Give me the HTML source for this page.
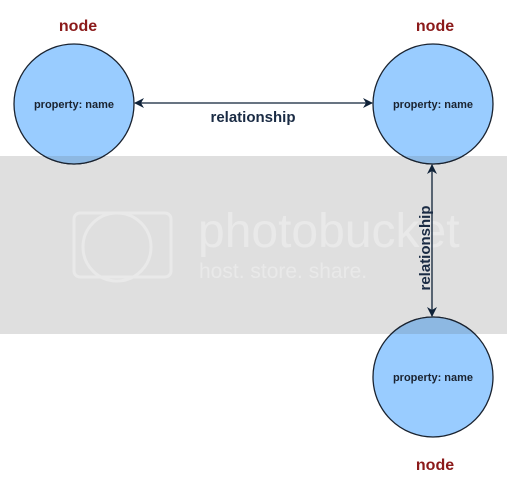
<!DOCTYPE html>
<html><head><style>
html,body{margin:0;padding:0;background:#fff;}
body{width:507px;height:491px;overflow:hidden;position:relative;}
</style></head><body>
<svg width="507" height="491" viewBox="0 0 507 491" xmlns="http://www.w3.org/2000/svg" style="position:absolute;left:0;top:0">
<defs>
<clipPath id="band"><rect x="0" y="156" width="507" height="178"/></clipPath>
<marker id="ah" markerWidth="10" markerHeight="10" refX="9" refY="5" orient="auto-start-reverse" markerUnits="userSpaceOnUse">
<path d="M0,0 L10,5 L0,10 L3,5 Z" fill="#0f2238"/></marker>
</defs>
<rect x="0" y="156" width="507" height="178" fill="#dfdfdf"/>
<g fill="none" stroke="#e9e9e9" stroke-width="3">
<rect x="74" y="213" width="97" height="64" rx="6"/>
<circle cx="117" cy="247" r="34"/>
</g>
<text x="198" y="247" font-family="Liberation Sans, sans-serif" font-size="48" fill="#e9e9e9">photobucket</text>
<text x="199" y="278" font-family="Liberation Sans, sans-serif" font-size="21" fill="#e9e9e9">host. store. share.</text>
<g stroke="#1a2330" stroke-width="1.3" fill="#99ccff">
<circle cx="74" cy="104" r="60"/>
<circle cx="433" cy="104" r="60"/>
<circle cx="433" cy="377" r="60"/>
</g>
<g clip-path="url(#band)" fill="#8db8e2" stroke="#1a2330" stroke-width="1.3">
<circle cx="74" cy="104" r="60"/>
<circle cx="433" cy="104" r="60"/>
<circle cx="433" cy="377" r="60"/>
</g>
<g stroke="#0f2238" stroke-width="1.3">
<line x1="135" y1="103" x2="372" y2="103" marker-end="url(#ah)" marker-start="url(#ah)"/>
<line x1="432" y1="165" x2="432" y2="316" marker-end="url(#ah)" marker-start="url(#ah)"/>
</g>
<g font-family="Liberation Sans, sans-serif" font-weight="bold" text-anchor="middle">
<text x="74" y="108" font-size="11" fill="#1a2330">property: name</text>
<text x="433" y="108" font-size="11" fill="#1a2330">property: name</text>
<text x="433" y="381" font-size="11" fill="#1a2330">property: name</text>
<text x="78" y="31" font-size="16" fill="#8b1a1a">node</text>
<text x="435" y="31" font-size="16" fill="#8b1a1a">node</text>
<text x="435" y="470" font-size="16" fill="#8b1a1a">node</text>
<text x="253" y="122" font-size="15" fill="#1a2b44">relationship</text>
<text x="0" y="0" font-size="15" fill="#1a2b44" transform="translate(430,248) rotate(-90)">relationship</text>
</g>
</svg>
</body></html>
